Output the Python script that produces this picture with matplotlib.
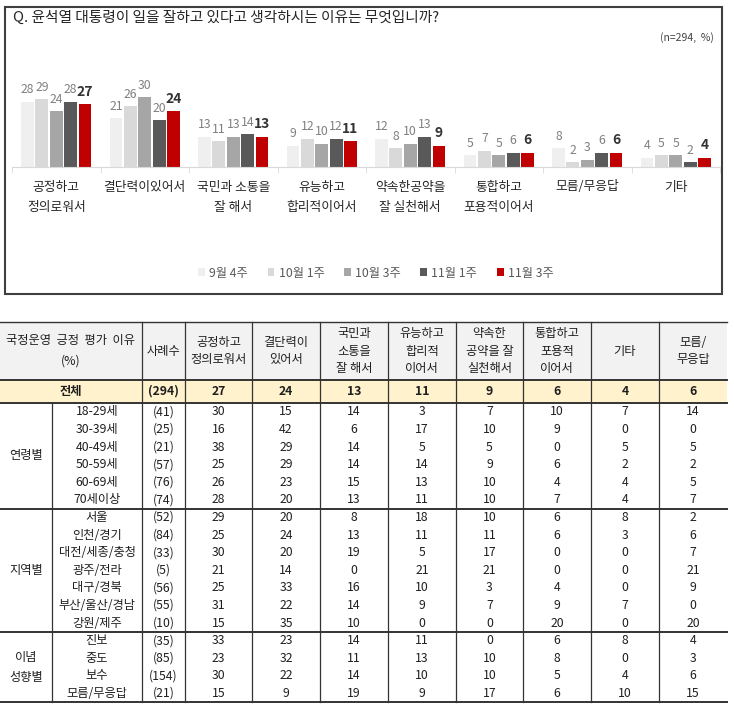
import matplotlib.pyplot as plt
from matplotlib.patches import Rectangle
from matplotlib.transforms import blended_transform_factory
import numpy as np

plt.rcParams['font.family'] = ['Noto Sans CJK KR', 'DejaVu Sans']

# ---- chart data ----
question = 'Q. 윤석열 대통령이 일을 잘하고 있다고 생각하시는 이유는 무엇입니까?'
base_note = '(n=294,  %)'
reasons = ['공정하고\n정의로워서', '결단력이있어서', '국민과 소통을\n잘 해서', '유능하고\n합리적이어서',
           '약속한공약을\n잘 실천해서', '통합하고\n포용적이어서', '모름/무응답', '기타']
weeks = ['9월 4주', '10월 1주', '10월 3주', '11월 1주', '11월 3주']
sep_wk4 = [28, 21, 13, 9, 12, 5, 8, 4]
oct_wk1 = [29, 26, 11, 12, 8, 7, 2, 5]
oct_wk3 = [24, 30, 13, 10, 10, 5, 3, 5]
nov_wk1 = [28, 20, 14, 12, 13, 6, 6, 2]
nov_wk3 = [27, 24, 13, 11, 9, 6, 6, 4]
week_colors = ['#efefef', '#d9d9d9', '#a6a6a6', '#595959', '#c00000']

# ---- table data ----
tbl_title = '국정운영  긍정  평가  이유\n(%)'
tbl_cols = ['사례수', '공정하고\n정의로워서', '결단력이\n있어서', '국민과\n소통을\n잘 해서',
            '유능하고\n합리적\n이어서', '약속한\n공약을 잘\n실천해서', '통합하고\n포용적\n이어서',
            '기타', '모름/\n무응답']
total_label = '전체'
total_n = 294
total_vals = [27, 24, 13, 11, 9, 6, 4, 6]

groups = ['연령별', '지역별', '이념\n성향별']
age_rows = ['18-29세', '30-39세', '40-49세', '50-59세', '60-69세', '70세이상']
age_n = [41, 25, 21, 57, 76, 74]
age_vals = [[30, 15, 14, 3, 7, 10, 7, 14],
            [16, 42, 6, 17, 10, 9, 0, 0],
            [38, 29, 14, 5, 5, 0, 5, 5],
            [25, 29, 14, 14, 9, 6, 2, 2],
            [26, 23, 15, 13, 10, 4, 4, 5],
            [28, 20, 13, 11, 10, 7, 4, 7]]
region_rows = ['서울', '인천/경기', '대전/세종/충청', '광주/전라', '대구/경북', '부산/울산/경남', '강원/제주']
region_n = [52, 84, 33, 5, 56, 55, 10]
region_vals = [[29, 20, 8, 18, 10, 6, 8, 2],
               [25, 24, 13, 11, 11, 6, 3, 6],
               [30, 20, 19, 5, 17, 0, 0, 7],
               [21, 14, 0, 21, 21, 0, 0, 21],
               [25, 33, 16, 10, 3, 4, 0, 9],
               [31, 22, 14, 9, 7, 9, 7, 0],
               [15, 35, 10, 0, 0, 20, 0, 20]]
ideo_rows = ['진보', '중도', '보수', '모름/무응답']
ideo_n = [35, 85, 154, 21]
ideo_vals = [[33, 23, 14, 11, 0, 6, 8, 4],
             [23, 32, 11, 13, 10, 8, 0, 3],
             [30, 22, 14, 10, 10, 5, 4, 6],
             [15, 9, 19, 9, 17, 6, 10, 15]]

W, H = 734, 715
fig = plt.figure(figsize=(W / 100, H / 100), dpi=100)

# overlay in pixel coordinates (box, title, table)
ov = fig.add_axes([0, 0, 1, 1], zorder=0)
ov.set_xlim(0, W)
ov.set_ylim(H, 0)
ov.axis('off')

ov.add_patch(Rectangle((5, 7), 717, 287, fill=False, edgecolor='#3f3f3f', lw=1.5))
ov.text(13, 18, question, fontsize=10.6, color='#262626', va='center', ha='left')
ov.text(714, 38, base_note, fontsize=7.5, color='#404040', va='center', ha='right')

# ---- bar chart ----
base_y = 167
ax = fig.add_axes([12 / W, (H - base_y) / H, 708 / W, 127 / H], zorder=1)
ax.patch.set_alpha(0)
x = np.arange(len(reasons))
series = [sep_wk4, oct_wk1, oct_wk3, nov_wk1, nov_wk3]
step, bw = 0.162, 0.145
bars = []
for k, (vals, c, lab) in enumerate(zip(series, week_colors, weeks)):
    xs = x + (k - 2) * step
    b = ax.bar(xs, vals, width=bw, color=c, label=lab)
    bars.append(b)
    last = k == len(series) - 1
    for xi, v in zip(xs, vals):
        ax.annotate(str(v), (xi, v), xytext=(0, 4), textcoords='offset points',
                    ha='center', va='bottom',
                    fontsize=10 if last else 8.8,
                    fontweight='bold' if last else 'normal',
                    color='#333333' if last else '#808080')
ax.set_xlim(-0.5, len(reasons) - 0.5)
ax.set_ylim(0, 127 / 2.33)
for s in ['top', 'right', 'left']:
    ax.spines[s].set_visible(False)
ax.spines['bottom'].set_color('#d9d9d9')
ax.set_yticks([])
ax.set_xticks(x)
ax.set_xticklabels([])
ax.set_xticks(np.arange(-0.5, len(reasons)), minor=True)
ax.tick_params(axis='x', which='major', length=0)
ax.tick_params(axis='x', which='minor', length=4, color='#d9d9d9')

lab_tr = blended_transform_factory(ax.transData, ov.transData)
for xi, name in zip(x, reasons):
    for j, line in enumerate(name.split('\n')):
        ax.text(xi, 187 + j * 21, line, transform=lab_tr, ha='center', va='center',
                fontsize=9.2, color='#262626')

ax.legend(handles=bars, loc='center', bbox_to_anchor=(376, 273), bbox_transform=ov.transData,
          ncol=5, frameon=False, handlelength=0.55, handleheight=0.55, handletextpad=0.35,
          columnspacing=1.6, fontsize=8.8, labelcolor='#595959')

# ---- table ----
col_x = [0, 52, 142, 185, 252, 320, 388, 456, 523, 591, 659, 727]
t_top, h_bot, tot_bot, rh = 322, 380, 403, 17.6
txt_c = '#1f1f1f'
fs = 8.8


def cell_text(cx, cy, s, bold=False, gap=17.5):
    lines = s.split('\n')
    y0 = cy - gap * (len(lines) - 1) / 2
    for j, line in enumerate(lines):
        ov.text(cx, y0 + j * gap, line, ha='center', va='center', fontsize=fs,
                color=txt_c, fontweight='bold' if bold else 'normal')


ov.add_patch(Rectangle((0, t_top), col_x[-1], h_bot - t_top, color='#f2f2f2', lw=0))
ov.add_patch(Rectangle((0, h_bot), col_x[-1], tot_bot - h_bot, color='#fff2cc', lw=0))

hc = (t_top + h_bot) / 2
cell_text(col_x[2] / 2, hc, tbl_title, gap=21)
for i, name in enumerate(tbl_cols):
    cell_text((col_x[i + 2] + col_x[i + 3]) / 2, hc, name)

tc = (h_bot + tot_bot) / 2
cell_text(col_x[2] / 2, tc, total_label, bold=True)
cell_text((col_x[2] + col_x[3]) / 2, tc, '(%d)' % total_n, bold=True)
for i, v in enumerate(total_vals):
    cell_text((col_x[i + 3] + col_x[i + 4]) / 2, tc, str(v), bold=True)

y = tot_bot
seps = []
for gname, rows, ns, vals in zip(groups, [age_rows, region_rows, ideo_rows],
                                 [age_n, region_n, ideo_n], [age_vals, region_vals, ideo_vals]):
    g_top = y
    for rname, n, rv in zip(rows, ns, vals):
        cy = y + rh / 2
        cell_text((col_x[1] + col_x[2]) / 2, cy, rname)
        cell_text((col_x[2] + col_x[3]) / 2, cy, '(%d)' % n)
        for i, v in enumerate(rv):
            cell_text((col_x[i + 3] + col_x[i + 4]) / 2, cy, str(v))
        y += rh
    cell_text(col_x[1] / 2, (g_top + y) / 2, gname, gap=20)
    seps.append(y)

line_c = '#333333'
ov.plot([0, col_x[-1]], [t_top, t_top], color=line_c, lw=1.0)
for yy in [h_bot, tot_bot] + seps:
    ov.plot([0, col_x[-1]], [yy, yy], color=line_c, lw=1.4)
for xx in col_x[2:-1]:
    ov.plot([xx, xx], [t_top, seps[-1]], color=line_c, lw=0.9)
ov.plot([col_x[1], col_x[1]], [tot_bot, seps[-1]], color=line_c, lw=0.9)

fig.savefig('out.png', dpi=100)
